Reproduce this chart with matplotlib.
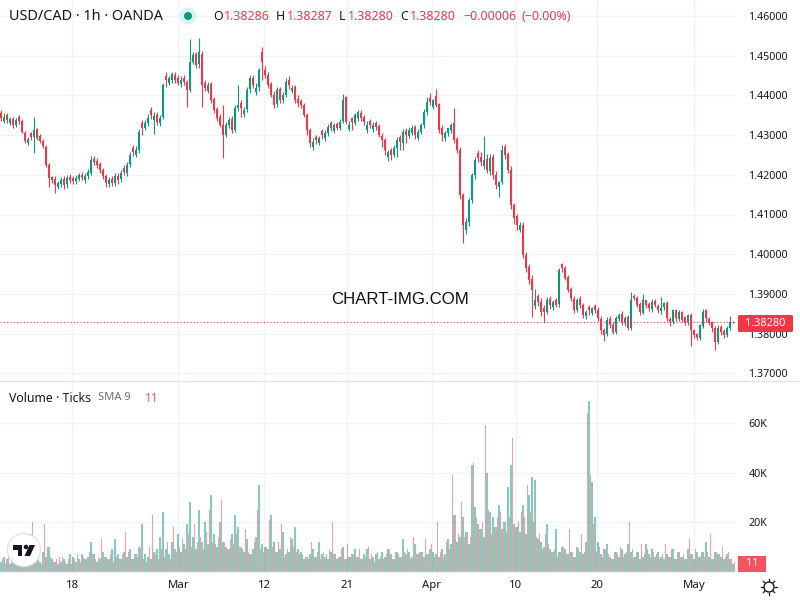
import matplotlib
matplotlib.use("Agg")
import matplotlib.pyplot as plt
from matplotlib.patches import Circle, Polygon, Rectangle, FancyBboxPatch

closes = [
14343,14345,14338,14340,14325,14338,14335,14308,14285,14290,14295,14313,14293,14285,14272,14225,14192,14187,14174,14179,
14187,14174,14192,14187,14184,14192,14199,14192,14197,14207,14237,14232,14224,14212,14197,14179,14187,14179,14197,14187,
14204,14207,14224,14250,14257,14262,14308,14318,14330,14343,14351,14348,14333,14343,14426,14439,14444,14454,14439,14431,
14439,14434,14414,14484,14502,14477,14509,14426,14419,14426,14388,14363,14343,14325,14300,14325,14338,14313,14368,14376,
14368,14363,14414,14444,14426,14419,14464,14484,14451,14426,14401,14376,14414,14388,14401,14434,14426,14419,14388,14381,
14376,14351,14313,14280,14283,14288,14293,14300,14305,14320,14318,14325,14318,14333,14388,14333,14325,14333,14351,14358,
14343,14333,14325,14325,14325,14320,14300,14288,14262,14257,14250,14267,14288,14283,14308,14300,14313,14318,14300,14308,
14325,14358,14383,14383,14388,14376,14313,14300,14305,14318,14325,14288,14262,14149,14073,14081,14136,14199,14237,14242,
14232,14237,14212,14242,14199,14174,14182,14262,14250,14212,14124,14091,14073,14073,13998,13965,13935,13910,13884,13879,
13854,13854,13884,13872,13879,13872,13960,13965,13940,13910,13889,13859,13884,13872,13847,13854,13859,13864,13859,13839,
13809,13796,13834,13821,13804,13839,13847,13829,13839,13814,13884,13889,13872,13854,13884,13872,13864,13879,13872,13859,
13864,13877,13839,13829,13859,13839,13854,13834,13829,13847,13809,13796,13791,13821,13854,13839,13829,13814,13779,13814,
13804,13796,13814,13829,13828]
opens = [
14355,14335,14350,14330,14340,14325,14345,14335,14305,14280,14305,14295,14315,14298,14285,14270,14225,14195,14190,14170,
14178,14190,14176,14195,14192,14184,14190,14200,14188,14197,14205,14240,14235,14226,14212,14196,14177,14190,14180,14198,
14190,14218,14205,14226,14268,14250,14262,14330,14318,14330,14362,14338,14350,14330,14345,14450,14430,14440,14452,14445,
14428,14445,14435,14414,14485,14505,14478,14505,14432,14412,14428,14390,14365,14345,14325,14300,14325,14340,14312,14368,
14380,14352,14365,14415,14445,14408,14420,14510,14465,14452,14428,14402,14378,14416,14388,14402,14440,14412,14420,14392,
14385,14375,14350,14312,14270,14296,14280,14310,14293,14305,14330,14310,14328,14318,14335,14395,14315,14342,14330,14342,
14356,14345,14312,14335,14315,14330,14322,14298,14288,14245,14262,14250,14268,14295,14280,14310,14298,14305,14320,14292,
14308,14325,14358,14393,14372,14398,14378,14318,14292,14305,14312,14330,14290,14262,14150,14062,14080,14136,14200,14255,
14245,14222,14240,14210,14245,14200,14170,14182,14270,14252,14212,14125,14095,14062,14073,13998,13968,13938,13870,13894,
13880,13865,13855,13888,13868,13885,13875,13975,13965,13942,13912,13888,13860,13888,13872,13845,13868,13852,13870,13860,
13838,13810,13798,13838,13822,13805,13838,13850,13826,13842,13815,13895,13890,13874,13852,13885,13875,13862,13882,13870,
13856,13866,13878,13838,13830,13860,13838,13855,13842,13828,13848,13808,13798,13790,13820,13860,13838,13830,13815,13780,
13816,13806,13796,13814,13829]
highs = [
14362,14356,14356,14345,14345,14342,14350,14340,14310,14296,14308,14345,14318,14302,14290,14275,14230,14198,14196,14185,
14195,14196,14200,14202,14198,14200,14205,14208,14204,14215,14248,14248,14242,14232,14218,14202,14195,14198,14204,14205,
14212,14225,14232,14258,14275,14272,14315,14338,14338,14352,14372,14358,14358,14350,14430,14458,14450,14458,14460,14452,
14448,14452,14440,14542,14510,14510,14545,14512,14440,14435,14435,14395,14372,14352,14376,14332,14345,14348,14375,14426,
14388,14372,14420,14452,14452,14430,14470,14522,14475,14460,14435,14410,14420,14422,14408,14445,14448,14425,14425,14400,
14392,14380,14355,14318,14292,14300,14298,14315,14312,14328,14335,14330,14333,14340,14403,14398,14335,14345,14355,14362,
14362,14350,14335,14340,14332,14335,14328,14305,14292,14262,14268,14275,14295,14300,14315,14318,14320,14325,14325,14315,
14330,14365,14395,14405,14392,14416,14382,14325,14310,14315,14330,14368,14296,14270,14155,14090,14142,14205,14245,14262,
14258,14298,14252,14252,14252,14210,14185,14275,14278,14258,14222,14130,14102,14080,14080,14005,13975,13948,13912,13900,
13890,13872,13892,13895,13885,13890,13965,13978,13970,13948,13918,13895,13890,13895,13878,13860,13872,13868,13875,13868,
13845,13815,13842,13845,13830,13845,13852,13858,13845,13848,13904,13900,13895,13880,13899,13880,13880,13888,13888,13875,
13892,13880,13882,13842,13862,13862,13860,13858,13845,13850,13852,13812,13802,13825,13862,13862,13842,13832,13820,13822,
13822,13812,13820,13845,13832]
lows = [
14335,14330,14330,14325,14318,14320,14328,14305,14280,14275,14288,14255,14288,14280,14268,14220,14170,14180,14154,14165,
14170,14165,14168,14180,14178,14178,14184,14186,14180,14190,14200,14225,14218,14205,14190,14170,14170,14172,14172,14178,
14182,14200,14198,14220,14248,14245,14255,14300,14312,14322,14340,14303,14325,14322,14340,14422,14425,14432,14430,14425,
14420,14425,14371,14408,14478,14470,14470,14371,14410,14405,14380,14355,14335,14320,14242,14295,14318,14305,14308,14360,
14345,14345,14358,14405,14418,14400,14412,14440,14445,14418,14395,14368,14370,14380,14382,14395,14415,14405,14380,14372,
14368,14345,14300,14270,14262,14278,14275,14290,14285,14298,14310,14305,14312,14312,14330,14328,14310,14312,14325,14335,
14335,14325,14305,14318,14308,14312,14295,14270,14250,14235,14237,14245,14245,14262,14262,14280,14292,14300,14290,14288,
14302,14318,14350,14375,14365,14370,14305,14285,14285,14298,14305,14280,14255,14140,14028,14052,14070,14130,14190,14232,
14222,14215,14205,14200,14190,14165,14144,14178,14240,14205,14115,14075,14060,14055,13990,13955,13925,13842,13862,13870,
13845,13829,13850,13862,13860,13868,13868,13955,13935,13905,13882,13852,13855,13865,13840,13838,13848,13848,13852,13832,
13800,13781,13795,13815,13798,13800,13832,13822,13820,13810,13808,13885,13868,13848,13850,13865,13858,13855,13868,13852,
13850,13860,13832,13820,13825,13832,13832,13828,13822,13822,13768,13790,13785,13785,13815,13830,13822,13805,13758,13775,
13796,13790,13792,13808,13826]
vol_up = [
4,6,5,3,7,5,4,6,3,5,15,9,5,4,8,6,10,5,4,3,
4,5,3,7,6,4,5,7,5,6,12,7,4,5,8,6,5,9,13,7,
5,8,6,9,5,7,10,19,7,6,5,8,9,14,24,9,7,12,9,15,
8,11,19,28,14,9,25,12,20,11,31,15,10,20,12,10,9,15,23,18,
10,8,13,7,9,14,35,11,10,9,23,12,8,9,16,7,8,13,18,9,
8,5,6,7,9,6,12,7,6,5,8,7,5,6,10,5,6,7,9,6,
5,7,9,5,6,7,5,8,6,9,7,5,8,6,13,7,8,6,11,7,
8,6,7,9,8,7,6,9,7,13,11,23,12,14,22,16,11,43,26,19,
17,14,40,24,22,18,27,17,20,34,43,19,18,16,27,15,31,38,37,13,
12,10,19,9,8,17,8,10,9,7,8,6,10,8,7,12,69,36,22,12,
7,9,11,6,5,8,6,9,7,11,8,6,8,5,6,11,7,9,6,8,
6,5,7,6,9,5,8,6,5,9,7,5,8,6,8,12,6,5,8,7,
6,5,7,5,3]
vol_down = [
5,3,7,4,5,3,8,5,6,4,20,7,5,3,19,10,6,4,5,6,
6,4,5,3,5,7,4,6,5,8,7,5,6,13,6,5,7,4,6,5,
7,16,8,5,7,6,9,5,4,10,23,7,5,9,6,12,5,18,8,10,
13,9,15,10,19,12,14,9,16,25,12,11,14,29,12,9,13,11,15,10,
9,17,8,7,12,25,9,8,10,21,10,8,12,19,6,9,14,10,8,7,
7,6,5,12,6,8,5,8,7,9,20,7,6,9,5,11,6,7,6,9,
5,6,10,7,4,8,6,5,7,9,5,8,7,6,8,9,5,14,7,8,
8,13,7,11,6,20,8,6,12,9,39,23,15,28,14,16,14,44,22,17,
20,59,25,15,18,22,24,20,16,22,54,18,20,24,22,35,24,20,14,15,
9,15,11,8,9,6,8,10,7,17,8,6,9,15,8,64,39,19,8,10,
6,9,7,5,8,7,10,6,8,20,9,6,8,11,7,9,6,8,7,5,
7,11,6,9,5,8,6,7,5,13,7,9,6,8,6,8,15,5,8,7,
10,6,8,5,4]
price_ticks = [1.46, 1.45, 1.44, 1.43, 1.42, 1.41, 1.40, 1.39, 1.38, 1.37]
vol_ticks = [20, 40, 60]
time_labels = ["18", "Mar", "12", "21", "Apr", "10", "20", "May"]
time_ticks = [23.8, 59.1, 87.8, 115.4, 143.5, 171.5, 198.8, 231.1]
last_price = 1.3828

FONT = "Noto Sans"
GREEN, RED = "#089981", "#F23645"
GRID = "#F0F3FA"
TEXT = "#131722"
plt.rcParams["font.family"] = FONT

fig = plt.figure(figsize=(8, 6), dpi=100, facecolor="white")
W, H = 800, 600
ax = fig.add_axes([0, 1 - 381 / H, 736 / W, 381 / H])
av = fig.add_axes([0, 1 - 572 / H, 736 / W, 190 / H])

x = list(range(len(closes)))
for a in (ax, av):
    a.set_xlim(-1 / 3, 245)
    a.set_xticks(time_ticks)
    a.grid(True, color=GRID, lw=1)
    a.set_axisbelow(True)
    a.yaxis.tick_right()
    for s in a.spines.values():
        s.set_visible(False)

ax.set_ylim(1.46 - 365 / 3970, 1.46 + 16 / 3970)
ax.set_yticks(price_ticks)
ax.set_yticklabels([f"{p:.5f}" for p in price_ticks])
ax.tick_params(axis="y", length=0, pad=9, labelsize=7.7, labelcolor=TEXT)
ax.tick_params(axis="x", length=0, labelbottom=False)

colors = [GREEN if c >= o else RED for o, c in zip(opens, closes)]
ax.vlines(x, [l / 1e4 for l in lows], [h / 1e4 for h in highs], colors=colors, lw=0.8, zorder=3)
ax.bar(x, [abs(c - o) / 1e4 for o, c in zip(opens, closes)],
       bottom=[min(o, c) / 1e4 for o, c in zip(opens, closes)],
       width=0.8, color=colors, lw=0, zorder=4)
ax.axhline(last_price, color=RED, lw=0.8, ls=(0, (1, 2)), zorder=5)

av.set_ylim(-0.2, 189.5 / 2.475)
av.set_yticks(vol_ticks)
av.set_yticklabels([f"{v}K" for v in vol_ticks])
av.tick_params(axis="y", length=0, pad=9, labelsize=7.7, labelcolor=TEXT)
av.set_xticklabels(time_labels)
av.tick_params(axis="x", length=0, pad=6, labelsize=8.2, labelcolor=TEXT)
av.bar(x, vol_up, width=0.42, color=GREEN, alpha=0.5, lw=0, zorder=3)
av.bar([i + 0.5 for i in x], vol_down, width=0.42, color=RED, alpha=0.5, lw=0, zorder=3)

ov = fig.add_axes([0, 0, 1, 1], zorder=10)
ov.set_xlim(0, W)
ov.set_ylim(H, 0)
ov.axis("off")
ov.patch.set_alpha(0)

ov.plot([0, 800], [381, 381], color="#E0E3EB", lw=1)
ov.plot([0, 736], [572, 572], color="#F0F3FA", lw=1)

# header
ov.text(9, 17, "USD/CAD · 1h · OANDA", fontsize=10.4, color=TEXT, va="center")
ov.add_patch(Circle((188, 16), 8.5, color="#DDF1EE", lw=0))
ov.add_patch(Circle((188, 16), 4, color=GREEN, lw=0))
for xp, s, c in [(213, "O", TEXT), (224, "1.38286", RED), (276, "H", TEXT), (287, "1.38287", RED),
                 (339, "L", TEXT), (348, "1.38280", RED), (400, "C", TEXT), (410, "1.38280", RED),
                 (463, "−0.00006", RED), (521, "(−0.00%)", RED)]:
    ov.text(xp, 16.5, s, fontsize=8.9, color=c, va="center")
ov.text(9, 398, "Volume · Ticks", fontsize=8.9, color=TEXT, va="center")
ov.text(98, 398, "SMA 9", fontsize=8.0, color="#6A6D78", va="center")
ov.text(145, 398, "11", fontsize=8.6, color="#F7525F", va="center")

ov.text(400, 300, "CHART-IMG.COM", fontsize=12.1, family="Liberation Sans", color="#111111",
        ha="center", va="center")

# price labels
ov.add_patch(FancyBboxPatch((738, 315), 55, 17, boxstyle="round,pad=0,rounding_size=1.5", color=RED, lw=0))
ov.text(765.5, 323.5, "1.38280", fontsize=7.9, color="white", ha="center", va="center")
ov.add_patch(Rectangle((738, 556), 28, 16, color="#F7525F", lw=0))
ov.text(752, 564, "11", fontsize=7.9, color="white", ha="center", va="center")

# logo
ov.add_patch(Circle((24, 550), 16.5, facecolor="white", edgecolor="#E0E3EB", lw=1))
ov.add_patch(Polygon([(13, 545), (22, 545), (22, 556), (18, 556), (18, 550), (13, 550)], color="#131722", lw=0))
ov.add_patch(Circle((26, 547), 2.3, color="#131722", lw=0))
ov.add_patch(Polygon([(29.5, 545), (35, 545), (30, 556), (24.5, 556)], color="#131722", lw=0))

# settings icon
ov.add_patch(Circle((769, 587), 5, facecolor="white", edgecolor=TEXT, lw=1))
for x0, y0, x1, y1 in [(769, 579, 769, 581), (769, 593, 769, 595), (761, 587, 763, 587), (775, 587, 777, 587),
                       (763.3, 581.3, 764.6, 582.6), (773.4, 591.4, 774.7, 592.7),
                       (763.3, 592.7, 764.6, 591.4), (773.4, 582.6, 774.7, 581.3)]:
    ov.plot([x0, x1], [y0, y1], color=TEXT, lw=0.9)

fig.savefig("out.png", dpi=100)
